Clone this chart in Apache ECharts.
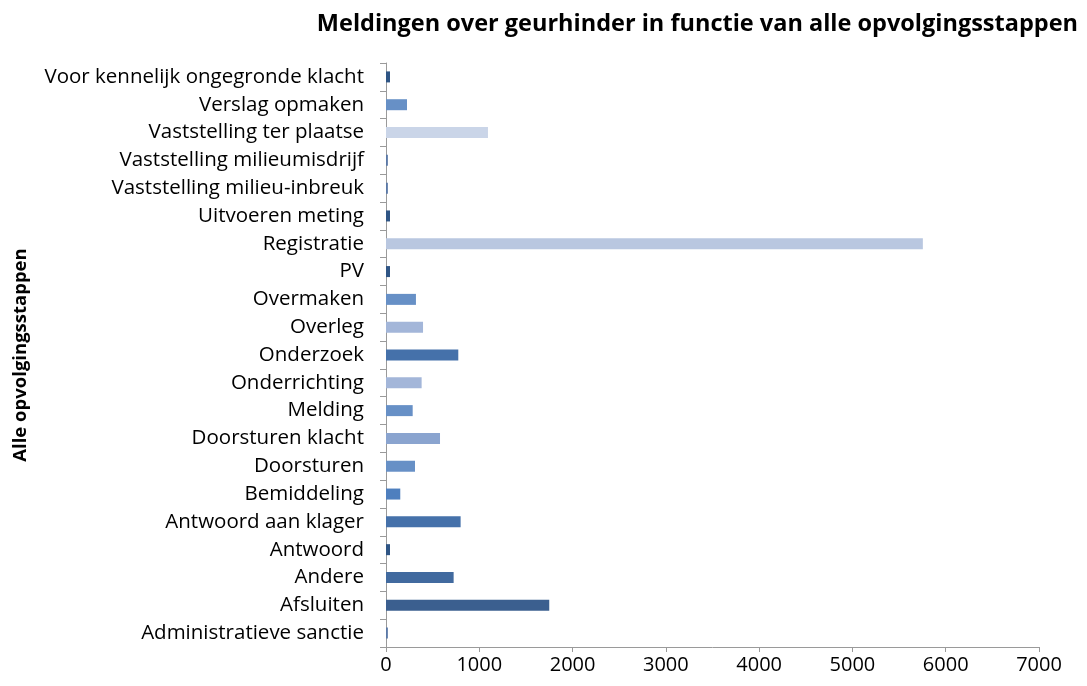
<!DOCTYPE html>
<html>
<head>
<meta charset="utf-8">
<script src="https://cdn.jsdelivr.net/npm/echarts@6/dist/echarts.min.js"></script>
<style>
  html, body { margin: 0; padding: 0; background: #ffffff; }
  #chart { width: 1087px; height: 686px; }
</style>
</head>
<body>
<div id="chart"></div>
<script>
// Follow-up steps, listed bottom to top as on the category axis
const steps = [
  'Administratieve sanctie',
  'Afsluiten',
  'Andere',
  'Antwoord',
  'Antwoord aan klager',
  'Bemiddeling',
  'Doorsturen',
  'Doorsturen klacht',
  'Melding',
  'Onderrichting',
  'Onderzoek',
  'Overleg',
  'Overmaken',
  'PV',
  'Registratie',
  'Uitvoeren meting',
  'Vaststelling milieu-inbreuk',
  'Vaststelling milieumisdrijf',
  'Vaststelling ter plaatse',
  'Verslag opmaken',
  'Voor kennelijk ongegronde klacht'
];

// Number of odour complaints per follow-up step
const meldingen = [
  20, 1750, 725, 43, 800, 153, 311, 579, 286, 382, 775,
  397, 321, 43, 5755, 43, 20, 20, 1093, 225, 43
];

// Value axis ticks
const xTicks = [0, 1000, 2000, 3000, 4000, 5000, 6000, 7000];

// Fill shade for each bar, same order as the steps
const barColors = [
  '#5a78a6', '#3b5f8f', '#416a9f', '#2f5585', '#4571aa', '#4e7fbe',
  '#6790c6', '#8aa4cf', '#6790c6', '#a3b6d9', '#4571aa', '#a3b6d9',
  '#6790c6', '#2f5585', '#b9c7e0', '#2f5585', '#5a78a6', '#5a78a6',
  '#cad5e8', '#6790c6', '#2f5585'
];

const fontFamily = '"Open Sans", Lato, sans-serif';

const chart = echarts.init(document.getElementById('chart'), null, { renderer: 'canvas' });

chart.setOption({
  animation: false,
  backgroundColor: '#ffffff',
  title: {
    text: 'Meldingen over geurhinder in functie van alle opvolgingsstappen',
    right: 4,
    top: 7,
    textStyle: { fontFamily, fontSize: 23.5, fontWeight: 'bold', color: '#000000' }
  },
  grid: { left: 386, right: 48, top: 63, bottom: 39, containLabel: false },
  xAxis: {
    type: 'value',
    min: xTicks[0],
    max: xTicks[xTicks.length - 1],
    interval: xTicks[1] - xTicks[0],
    axisLine: { show: true, lineStyle: { color: '#9a9a9a', width: 1 } },
    axisTick: { show: true, length: 5, lineStyle: { color: '#9a9a9a' } },
    splitLine: { show: false },
    axisLabel: {
      fontFamily, fontSize: 20, color: '#000000', margin: 8,
      formatter: v => String(v)
    }
  },
  yAxis: {
    type: 'category',
    data: steps,
    name: 'Alle opvolgingsstappen',
    nameLocation: 'middle',
    nameRotate: 90,
    nameGap: 356,
    nameTextStyle: { fontFamily, fontSize: 18.5, fontWeight: 'bold', color: '#000000' },
    axisLine: { show: true, lineStyle: { color: '#9a9a9a', width: 1 } },
    axisTick: { show: true, length: 6, alignWithLabel: false, lineStyle: { color: '#9a9a9a' } },
    axisLabel: { fontFamily, fontSize: 20.5, color: '#000000', margin: 22, interval: 0 }
  },
  series: [{
    type: 'bar',
    data: meldingen.map((v, i) => ({
      value: v,
      itemStyle: { color: barColors[i] }
    })),
    barWidth: 11
  }]
});
</script>
</body>
</html>
